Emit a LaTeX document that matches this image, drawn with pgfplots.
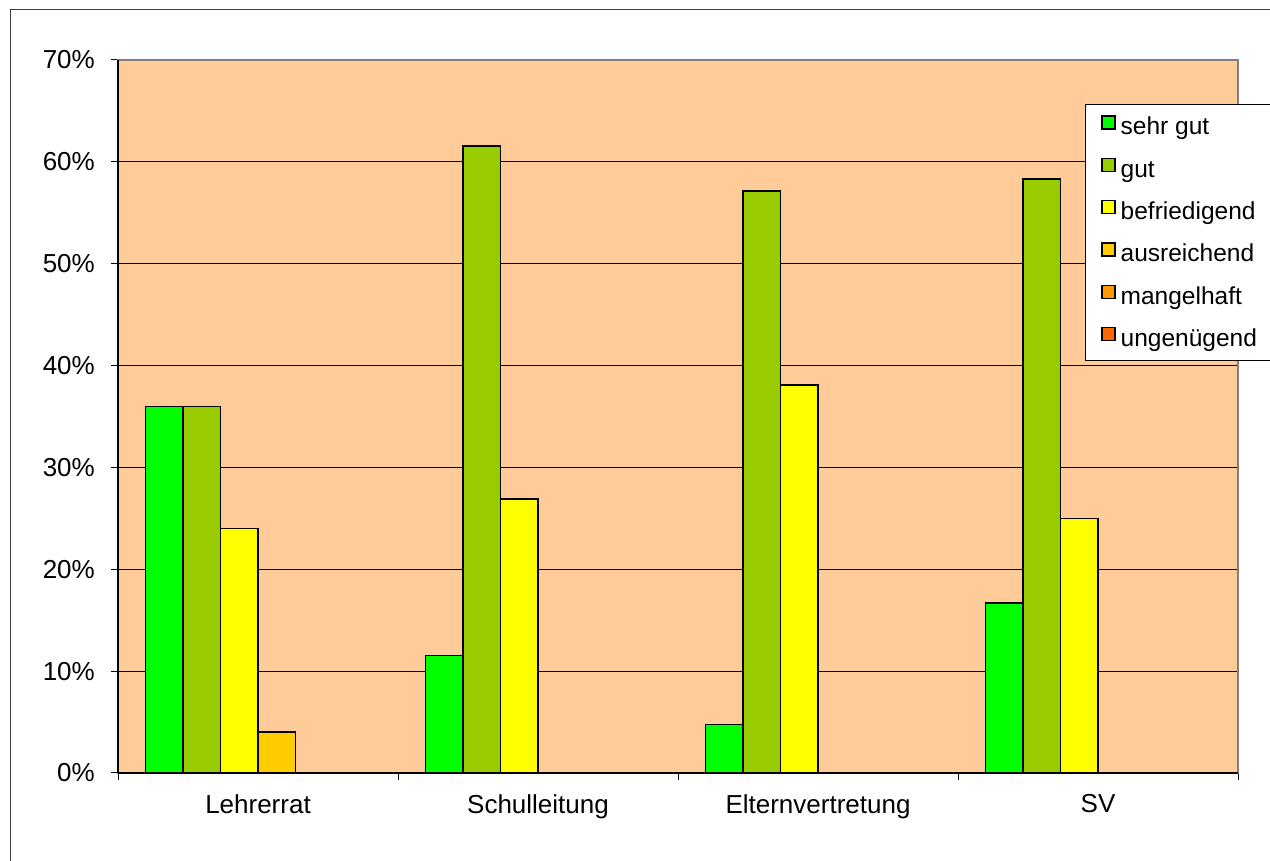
\documentclass[border=0pt]{standalone}
\usepackage{fontspec}
\setmainfont{Liberation Sans}
\usepackage{pgfplots}
\pgfplotsset{compat=1.18}
\definecolor{bg}{HTML}{FFCC99}
\definecolor{c1}{HTML}{00FF00}
\definecolor{c2}{HTML}{99CC00}
\definecolor{c3}{HTML}{FFFF00}
\definecolor{c4}{HTML}{FFCC00}
\definecolor{c5}{HTML}{FF9900}
\definecolor{c6}{HTML}{FF6600}
\begin{document}
\begin{tikzpicture}[x=1pt,y=1pt]
\clip (0,0) rectangle (1270,861);
\useasboundingbox (0,0) rectangle (1270,861);
\draw[line width=1.2pt, black!75] (10.5,-10) -- (10.5,851.5) -- (1290,851.5);
\begin{axis}[
  at={(118pt,88pt)}, anchor=south west,
  scale only axis, width=1120pt, height=713pt,
  xmin=-0.5, xmax=3.5, ymin=0, ymax=70,
  clip=false,
  ybar=0pt, bar width=0.1339,
  axis background/.style={fill=bg},
  axis line style={draw=black!50, line width=1.5pt},
  ymajorgrids, grid style={black, line width=0.9pt},
  ytick={0,10,...,70},
  yticklabels={0\%,10\%,20\%,30\%,40\%,50\%,60\%,70\%},
  xtick={-0.5,0.5,1.5,2.5,3.5},
  xticklabels={},
  extra x ticks={0,1,2,3},
  extra x tick labels={Lehrerrat,Schulleitung,Elternvertretung,SV},
  extra x tick style={major tick length=0pt, grid=none},
  tick pos=left,
  tick align=outside, major tick length=7pt,
  tick style={black, line width=1pt},
  ticklabel style={font=\fontsize{26}{30}\selectfont},
  y tick label style={inner sep=0pt, xshift=-16pt},
  x tick label style={inner sep=0pt, yshift=-21pt},
  legend style={at={(rel axis cs:0.8634,0.9369)}, anchor=north west,
    draw=none, fill=none,
    font=\fontsize{24.5}{28}\selectfont,
    inner xsep=16pt, inner ysep=10pt,
    row sep=16.6pt, column sep=2pt,
    nodes={inner ysep=0pt, inner xsep=3pt, text height=18pt, text depth=6pt},
    cells={anchor=west}},
  legend image code/.code={\draw[#1,line width=1.5pt] (0pt,0pt) rectangle (13pt,13pt);},
  bs/.style={draw=black, line width=1.6pt},
]
\addplot[bs, fill=c1] coordinates {(0,36) (1,11.54) (2,4.76) (3,16.67)};
\addplot[bs, fill=c2] coordinates {(0,36) (1,61.54) (2,57.14) (3,58.33)};
\addplot[bs, fill=c3] coordinates {(0,24) (1,26.92) (2,38.10) (3,25)};
\addplot[bs, fill=c4] coordinates {(0,4) (1,0) (2,0) (3,0)};
\addplot[bs, fill=c5] coordinates {(0,0) (1,0) (2,0) (3,0)};
\addplot[bs, fill=c6] coordinates {(0,0) (1,0) (2,0) (3,0)};
\legend{sehr gut,gut,befriedigend,ausreichend,mangelhaft,ungenügend}
\draw[black, line width=1.3pt] (rel axis cs:0,0) -- (rel axis cs:0,1);
\draw[black, line width=1.3pt] (rel axis cs:0,0) -- (rel axis cs:1,0);
\draw[black, line width=1pt, fill=white] (rel axis cs:0.8634,0.9369) rectangle (rel axis cs:1.2,0.5792);
\end{axis}
\end{tikzpicture}
\end{document}
